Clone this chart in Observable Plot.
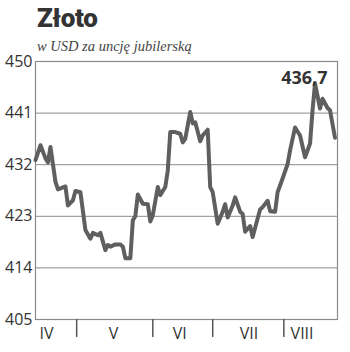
<!DOCTYPE html>
<html>
<head>
<meta charset="utf-8">
<script src="https://cdn.jsdelivr.net/npm/d3@7"></script>
<script src="https://cdn.jsdelivr.net/npm/@observablehq/plot@0.6"></script>
<style>
  html, body { margin: 0; padding: 0; background: #fff; }
  #wrap { width: 350px; height: 352px; position: relative; overflow: hidden; }
  #head { position: relative; height: 53px; }
  #title { position: absolute; left: 37px; top: 5px; font-family: Roboto, sans-serif; font-weight: 900; font-size: 26px; line-height: 26px; color: #333; letter-spacing: -0.3px; }
  #sub { position: absolute; left: 37px; top: 39px; font-family: "Liberation Serif", serif; font-style: italic; font-size: 14.5px; line-height: 15px; color: #444; }
</style>
</head>
<body>
<div id="wrap">
  <div id="head">
    <div id="title">Złoto</div>
    <div id="sub">w USD za uncję jubilerską</div>
  </div>
  <div id="chart"></div>
</div>
<script>
// trading-day index of each reading
const days = [0,2,4,5,6,8,9,12,13,15,16,18,20,22,23,25,26,28,29,30,32,34,35,36,38,39,40,41,43,45,46,47,49,50,52,53,54,56,58,59,60,62,63,64,66,67,69,70,71,73,75,76,77,79,80,82,83,84,86,87,89,90,91,93,94,96,97,99,101,102,104,106,108,110,111,112,114,115,117,118,120];
// price in USD per troy ounce
const prices = [432.8,435.4,433.1,432.4,435.1,429.0,427.7,428.2,424.9,425.8,427.4,427.2,420.6,419.1,420.1,419.7,420.1,417.1,418.0,417.7,418.1,418.1,417.7,415.7,415.7,422.3,423.0,426.8,425.2,425.1,422.1,423.2,428.1,426.7,428.1,431.0,437.7,437.7,437.4,435.9,436.5,441.2,439.2,439.4,436.1,437.1,438.1,428.1,427.2,421.7,423.8,425.1,422.8,424.9,426.3,423.8,423.4,420.3,421.3,419.4,422.6,424.2,424.6,425.7,423.9,423.8,427.2,429.6,432.1,434.5,438.5,437.1,433.3,435.7,441.5,446.2,441.8,443.5,441.9,441.5,436.7];
const yTicks = [405,414,423,432,441,450];
const monthStarts = [16.5,47,71,99.5];
const monthNames = ["IV","V","VI","VII","VIII"];
const monthLabelDays = [4.4,31.3,57.8,85.5,106.8];

const data = days.map((d, i) => ({day: d, price: prices[i]}));
const last = data[data.length - 1];
const months = monthNames.map((m, i) => ({name: m, day: monthLabelDays[i]}));

const chart = Plot.plot({
  width: 350,
  height: 299,
  marginTop: 8,
  marginBottom: 33,
  marginLeft: 35,
  marginRight: 13,
  style: {fontFamily: "'Open Sans', sans-serif", color: "#333", background: "#fff", overflow: "visible"},
  x: {domain: [0, 121], axis: null},
  y: {domain: [405, 450], axis: null},
  marks: [
    Plot.gridY(yTicks, {stroke: "#8a8a8a", strokeOpacity: 1, strokeWidth: 1}),
    Plot.frame({stroke: "#8a8a8a", strokeWidth: 1.2}),
    Plot.axisY(yTicks, {tickSize: 0, tickPadding: 3, fontSize: 16, fill: "#333", label: null}),
    Plot.axisX(monthStarts, {tickSize: 18, text: null, stroke: "#555", strokeWidth: 1.5, label: null}),
    Plot.text(months, {x: "day", text: "name", frameAnchor: "bottom", lineAnchor: "middle", dy: 14, fontSize: 16, fill: "#333"}),
    Plot.line(data, {x: "day", y: "price", stroke: "#5f5f5f", strokeWidth: 4, strokeLinejoin: "round"}),
    Plot.text([last], {frameAnchor: "top-right", lineAnchor: "middle", text: d => d.price.toFixed(1).replace(".", ","), dx: -10, dy: 17, textAnchor: "end", fontSize: 18, fontWeight: 700, fill: "#333"})
  ]
});
document.getElementById("chart").appendChild(chart);
</script>
</body>
</html>
